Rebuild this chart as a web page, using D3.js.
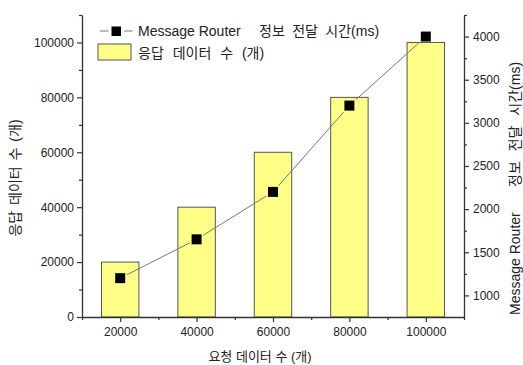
<!DOCTYPE html>
<html>
<head>
<meta charset="utf-8">
<script src="https://cdn.jsdelivr.net/npm/d3@7"></script>
<style>
  html, body { margin: 0; padding: 0; background: #fff; }
  svg { display: block; font-family: Arial, "Liberation Sans", "Noto Sans CJK KR", sans-serif; }
</style>
</head>
<body>
<svg id="chart" width="523" height="365"></svg>
<script>
// Request counts (x categories)
const requests = [20000, 40000, 60000, 80000, 100000];
// Response data count (bars, left axis)
const responses = [20000, 40000, 60000, 80000, 100000];
// Message Router delivery time in ms (line, right axis)
const routerTimes = [1200, 1650, 2200, 3200, 4000];

const leftTicks = [0, 20000, 40000, 60000, 80000, 100000];
const rightTicks = [1000, 1500, 2000, 2500, 3000, 3500, 4000];
const xTicks = [20000, 40000, 60000, 80000, 100000];

const routerName = "Message Router";
const routerTimeLabel = "정보 전달 시간(ms)";
const barLabel = "응답 데이터 수 (개)";
const xTitle = "요청 데이터 수 (개)";
const leftTitle = "응답 데이터 수 (개)";

const svg = d3.select("#chart");
const plot = { left: 82, right: 464, top: 15, bottom: 317 };

const x = d3.scaleLinear().domain([10000, 110000]).range([plot.left, plot.right]);
const yL = d3.scaleLinear().domain([0, 110000]).range([plot.bottom, plot.top]);
const yR = d3.scaleLinear().domain([750, 4250]).range([plot.bottom, plot.top]);

const axisColor = "#333";
const textColor = "#222";
const barHalf = 5000 * 0.98;
const markerHalf = 5;
const lineGap = 2;

// Bars
svg.append("g").selectAll("rect")
  .data(requests)
  .join("rect")
  .attr("x", (d) => x(d - barHalf))
  .attr("y", (d, i) => yL(responses[i]))
  .attr("width", (d) => x(d + barHalf) - x(d - barHalf))
  .attr("height", (d, i) => yL(0) - yL(responses[i]))
  .attr("fill", "#ffff88")
  .attr("stroke", "#555")
  .attr("stroke-width", 1);

// Connecting line, with a small gap left around each marker
const pts = routerTimes.map((d, i) => [x(requests[i]), yR(d)]);
const segs = d3.pairs(pts).map(([a, b]) => {
  const dx = b[0] - a[0], dy = b[1] - a[1];
  const len = Math.hypot(dx, dy);
  const ux = dx / len, uy = dy / len;
  const off = markerHalf / Math.max(Math.abs(ux), Math.abs(uy)) + lineGap;
  return [[a[0] + ux * off, a[1] + uy * off], [b[0] - ux * off, b[1] - uy * off]];
});
svg.append("g").selectAll("path")
  .data(segs)
  .join("path")
  .attr("d", (s) => d3.line()(s))
  .attr("fill", "none")
  .attr("stroke", "#777")
  .attr("stroke-width", 1);
svg.append("g").selectAll("rect")
  .data(pts)
  .join("rect")
  .attr("x", (p) => p[0] - markerHalf)
  .attr("y", (p) => p[1] - markerHalf)
  .attr("width", markerHalf * 2)
  .attr("height", markerHalf * 2)
  .attr("fill", "#000");

// Axes
function styleAxis(g) {
  g.attr("font-family", null);
  g.select(".domain").attr("stroke", axisColor).attr("stroke-width", 1.3);
  g.selectAll(".tick line").attr("stroke", axisColor).attr("stroke-width", 1.2);
  g.selectAll(".tick text").attr("fill", textColor).style("font-size", "12px");
}

// Minor ticks
const minorL = d3.range(10000, 110001, 20000);
const minorR = d3.range(1250, 4251, 500);
const minorX = d3.range(10000, 110001, 20000);

const gxMinor = svg.append("g").attr("transform", `translate(0,${plot.bottom})`)
  .call(d3.axisBottom(x).tickValues(minorX).tickSize(3).tickFormat(""));
const gLMinor = svg.append("g").attr("transform", `translate(${plot.left},0)`)
  .call(d3.axisLeft(yL).tickValues(minorL).tickSize(3).tickFormat(""));
const gRMinor = svg.append("g").attr("transform", `translate(${plot.right},0)`)
  .call(d3.axisRight(yR).tickValues(minorR).tickSize(3).tickFormat(""));
[gxMinor, gLMinor, gRMinor].forEach((g) => { styleAxis(g); g.select(".domain").remove(); });

const gx = svg.append("g").attr("transform", `translate(0,${plot.bottom})`)
  .call(d3.axisBottom(x).tickValues(xTicks).tickSize(5).tickSizeOuter(0).tickPadding(5).tickFormat(d3.format("d")));
styleAxis(gx);
const gl = svg.append("g").attr("transform", `translate(${plot.left},0)`)
  .call(d3.axisLeft(yL).tickValues(leftTicks).tickSize(5).tickSizeOuter(0).tickPadding(3).tickFormat(d3.format("d")));
styleAxis(gl);
const gr = svg.append("g").attr("transform", `translate(${plot.right},0)`)
  .call(d3.axisRight(yR).tickValues(rightTicks).tickSize(5).tickSizeOuter(0).tickPadding(4).tickFormat(d3.format("d")));
styleAxis(gr);

// Axis titles
svg.append("text")
  .attr("x", 260).attr("y", 361)
  .attr("text-anchor", "middle")
  .attr("fill", textColor)
  .style("font-size", "13px")
  .text(xTitle);
svg.append("text")
  .attr("transform", "translate(20,178) rotate(-90)")
  .attr("text-anchor", "middle")
  .attr("fill", textColor)
  .style("font-size", "14px")
  .style("word-spacing", "2px")
  .text(leftTitle);
const rt = svg.append("text")
  .attr("transform", "translate(520,0) rotate(-90)")
  .attr("fill", textColor)
  .style("font-size", "14px");
rt.append("tspan").attr("x", -315).text(routerName);
rt.append("tspan").attr("x", -187).style("word-spacing", "6px").text(routerTimeLabel);

// Legend
const lg = svg.append("g");
lg.append("line").attr("x1", 100).attr("x2", 108.5).attr("y1", 31).attr("y2", 31)
  .attr("stroke", "#777").attr("stroke-width", 1);
lg.append("line").attr("x1", 124).attr("x2", 132.5).attr("y1", 31).attr("y2", 31)
  .attr("stroke", "#777").attr("stroke-width", 1);
lg.append("rect").attr("x", 111.5).attr("y", 26.5).attr("width", 9.5).attr("height", 9.5).attr("fill", "#000");
const t1 = lg.append("text").attr("y", 36)
  .attr("fill", textColor).style("font-size", "14px");
t1.append("tspan").attr("x", 138).text(routerName);
t1.append("tspan").attr("x", 259).style("word-spacing", "3.5px").text(routerTimeLabel);
lg.append("rect").attr("x", 98).attr("y", 44).attr("width", 33).attr("height", 16)
  .attr("fill", "#ffff88").attr("stroke", "#555").attr("stroke-width", 1);
lg.append("text").attr("x", 138).attr("y", 58)
  .attr("fill", textColor).style("font-size", "14px").style("word-spacing", "5px").text(barLabel);
</script>
</body>
</html>
